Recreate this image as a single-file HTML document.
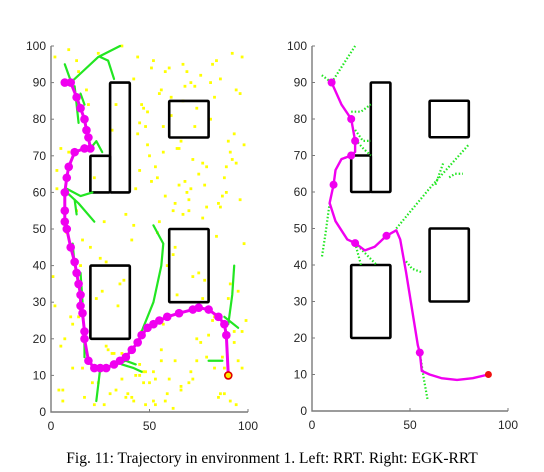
<!DOCTYPE html>
<html><head><meta charset="utf-8"><style>
html,body{margin:0;padding:0;background:#fff;width:544px;height:472px;overflow:hidden}
svg{display:block}
</style></head><body>
<svg id="fig" width="544" height="472" xmlns="http://www.w3.org/2000/svg">
<g id="left"></g>
<g id="right"></g>
<text x="272" y="463" text-anchor="middle" font-family="Liberation Serif, serif" font-size="15.5" fill="#000">Fig. 11: Trajectory in environment 1. Left: RRT. Right: EGK-RRT</text>
</svg>
<script>
const ticks=[0,50,100];
const yticks=[0,10,20,30,40,50,60,70,80,90,100];
const obstacles=[[20,60,30,70],[30,60,40,90],[60,75,80,85],[60,30,80,50],[20,20,40,40]];
const samplesX=[2,5,9,14,18,24,27,33,36,42,45,48,52,55,58,63,67,71,74,78,82,86,90,94,97,3,7,12,16,22,28,31,38,44,47,53,57,61,65,69,73,77,81,85,88,92,96,4,11,19,26,34,41,49,56,62,68,72,79,83,89,93,98,6,13,21,29,37,43,51,59,64,70,76,84,91,95,1,8,15,23,32,39,46,54,60,66,75,80,87,99,10,17,25,35,50,57,63,71,78,86,93,2,9,20,30,40,45,53,67,74,82,90,97,5,14,27,36,48,58,69,77,88,95,
 43,47,52,56,61,66,72,76,84,91,96,44,49,54,58,64,68,73,79,86,92,98,42,46,51,57,62,67,71,77,83,89,94,45,50,55,60,65,70,75,81,87,93,3,8,13,24,33,38,42,48,53,59,66,74,85,94,6,16,28,36,45,52,63,70,79,88,97,11,22,31,41,47,56,62,72,83,91];
const samplesY=[97,72,99,93,88,98,52,84,100,91,66,78,96,87,93,57,95,90,83,62,95,91,74,88,97,61,20,86,47,64,41,77,54,97,83,67,71,86,72,93,78,68,80,57,64,69,58,6,12,84,33,29,47,73,14,43,89,37,56,26,67,22,46,3,55,8,17,36,61,63,40,32,55,19,48,35,14,37,60,40,31,16,5,22,49,9,6,38,21,15,25,26,4,42,35,8,24,45,11,36,5,19,29,71,45,5,17,13,2,54,20,25,31,12,18,26,2,9,11,3,60,31,5,33,10,11,11,
 88,81,74,69,92,96,71,87,76,82,64,59,72,63,89,67,56,98,73,51,84,94,78,55,85,61,53,86,60,68,79,70,52,94,62,58,65,90,59,76,66,49,96,8,6,4,3,2,9,5,7,14,4,2,6,12,18,16,10,3,14,8,15,12,22,24,2,16,4,8,17,1,9,12,3];
const pathL_x=[7,10,13,15,17,18,19,20,17,12,9,8,7,7,7,8,10,12,13,14,15,15,16,17,17,19,22,25,28,32,35,38,41,44,46,49,52,55,59,65,72,75,80,85,88,89,90];
const pathL_y=[90,90,86,83,80,77,75,72,72,71,67,64,60,55,52,50,45,41,38,35,32,29,27,22,20,14,12,12,12,13,14,15,17,19,21,23,24,25,26,27,28,28.5,28,26,24,21,10];
const pathR_x=[10,15,20,22,22,20,15,12,11,9,12,18,22,27,32,38,43,45,48,51,54,55,56,60,66,74,82,90];
const pathR_y=[90,84,80,74,71,70,69,66,62,57,52,47,46,44,45,48,49.5,47,38,28,18,16,11,10,9,8.5,9,10];
const markR=[0,2,3,5,8,12,15,21];
const branchesL=[[[7,95],[9,92],[11,89]],[[10,90],[16,93],[24,97],[35,100]],[[25,97],[29,96],[32,91]],[[12,89],[13,84],[14,79]],[[15,87],[17,84]],[[20,72],[23,74],[26,71]],[[8,60],[14,57],[22,52]],[[8,61],[15,59],[21,60]],[[12,58],[13,54]],[[11,46],[12,40]],[[15,38],[16,30]],[[17,22],[17,15]],[[25,12],[23,3]],[[33,13],[38,14],[43,13]],[[36,13],[42,12],[46,11]],[[46,22],[52,30],[56,40],[57,46],[52,51]],[[90,24],[92,32],[93,40]],[[88,26],[95,23]],[[87,14],[80,14]]];
const branchesR=[[[10,90],[16,95],[22,100]],[[5,92],[10,90]],[[9,57],[7,49],[5,42]],[[20,82],[25,82],[30,84]],[[22,77],[26,74],[30,74]],[[21,75],[26,72],[30,70]],[[15,69],[20,70]],[[22,46],[25,40]],[[22,46],[33,40]],[[43,50],[60,61],[80,73]],[[63,62],[67,68]],[[70,64],[73,65],[77,65]],[[48,41],[51,39],[56,38]],[[55,16],[57,9],[59,3]]];
const NS='http://www.w3.org/2000/svg';
function mk(p,t,a){const e=document.createElementNS(NS,t);for(const k in a)e.setAttribute(k,a[k]);p.appendChild(e);return e;}
function axes(g,x0,x1,y0,y1){
 const sx=v=>x0+(x1-x0)*v/100, sy=v=>y0-(y0-y1)*v/100;
 return [sx,sy];
}
function frame(g,sx,sy,x0,x1,y0,y1){
 let a=mk(g,'path',{d:`M${x0},${y1}V${y0}H${x1}`,stroke:'#7a7a7a','stroke-width':1.4,fill:'none'});
 
 
 yticks.forEach(v=>{mk(g,'line',{x1:x0,x2:x0+3,y1:sy(v),y2:sy(v),stroke:'#7a7a7a'});
  const t=mk(g,'text',{x:x0-5,y:sy(v)+4,'text-anchor':'end','font-family':'Liberation Sans, sans-serif','font-size':12,fill:'#262626'});t.textContent=v;
  
  });
 ticks.forEach(v=>{mk(g,'line',{x1:sx(v),x2:sx(v),y1:y0,y2:y0-3,stroke:'#7a7a7a'});
  const t=mk(g,'text',{x:sx(v),y:y0+18,'text-anchor':'middle','font-family':'Liberation Sans, sans-serif','font-size':12,fill:'#262626'});t.textContent=v;
  
  });
}
function obs(g,sx,sy){obstacles.forEach(o=>{const r=mk(g,'rect',{x:sx(o[0]),y:sy(o[3]),width:sx(o[2])-sx(o[0]),height:sy(o[1])-sy(o[3]),fill:'none',stroke:'#000','stroke-width':2.6,rx:1});
 
 });}
function line(g,pts,sx,sy,st){return mk(g,'polyline',Object.assign({points:pts.map(p=>sx(p[0])+','+sy(p[1])).join(' '),fill:'none','stroke-linejoin':'round','stroke-linecap':'round'},st));}
// Left
(function(){
 const g=document.getElementById('left');const x0=51,x1=248,y0=412,y1=46;const [sx,sy]=axes(g,x0,x1,y0,y1);
 samplesX.forEach((v,i)=>{const c=mk(g,'rect',{x:sx(v)-1.4,y:sy(samplesY[i])-1.4,width:2.8,height:2.8,fill:'#ffff00'});
  
  });
 obs(g,sx,sy);
 branchesL.forEach(b=>{const l=line(g,b,sx,sy,{stroke:'#22e622','stroke-width':2.2});
  
  });
 const pts=pathL_x.map((v,i)=>[v,pathL_y[i]]);
 const p=line(g,pts,sx,sy,{stroke:'#f000f0','stroke-width':3});
 
 
 pts.slice(0,-1).forEach(q=>{const c=mk(g,'circle',{cx:sx(q[0]),cy:sy(q[1]),r:4.3,fill:'#f000f0'});
  
  });
 const gl=mk(g,'circle',{cx:sx(90),cy:sy(10),r:3.5,fill:'#ffee00',stroke:'#e00000','stroke-width':1.6});
 
 
 frame(g,sx,sy,x0,x1,y0,y1);
})();
// Right
(function(){
 const g=document.getElementById('right');const x0=312,x1=508,y0=411,y1=46;const [sx,sy]=axes(g,x0,x1,y0,y1);
 obs(g,sx,sy);
 branchesR.forEach(b=>{const l=line(g,b,sx,sy,{stroke:'#22e622','stroke-width':2.2,'stroke-dasharray':'1.5 2','stroke-linecap':'butt'});
  
  });
 const pts=pathR_x.map((v,i)=>[v,pathR_y[i]]);
 const p=line(g,pts,sx,sy,{stroke:'#f000f0','stroke-width':2.4});
 
 
 markR.forEach(i=>{const c=mk(g,'circle',{cx:sx(pts[i][0]),cy:sy(pts[i][1]),r:4,fill:'#f000f0'});
  
  });
 const gl=mk(g,'circle',{cx:sx(90),cy:sy(10),r:3.5,fill:'#f01010'});
 
 
 frame(g,sx,sy,x0,x1,y0,y1);
})();
</script>
</body></html>
